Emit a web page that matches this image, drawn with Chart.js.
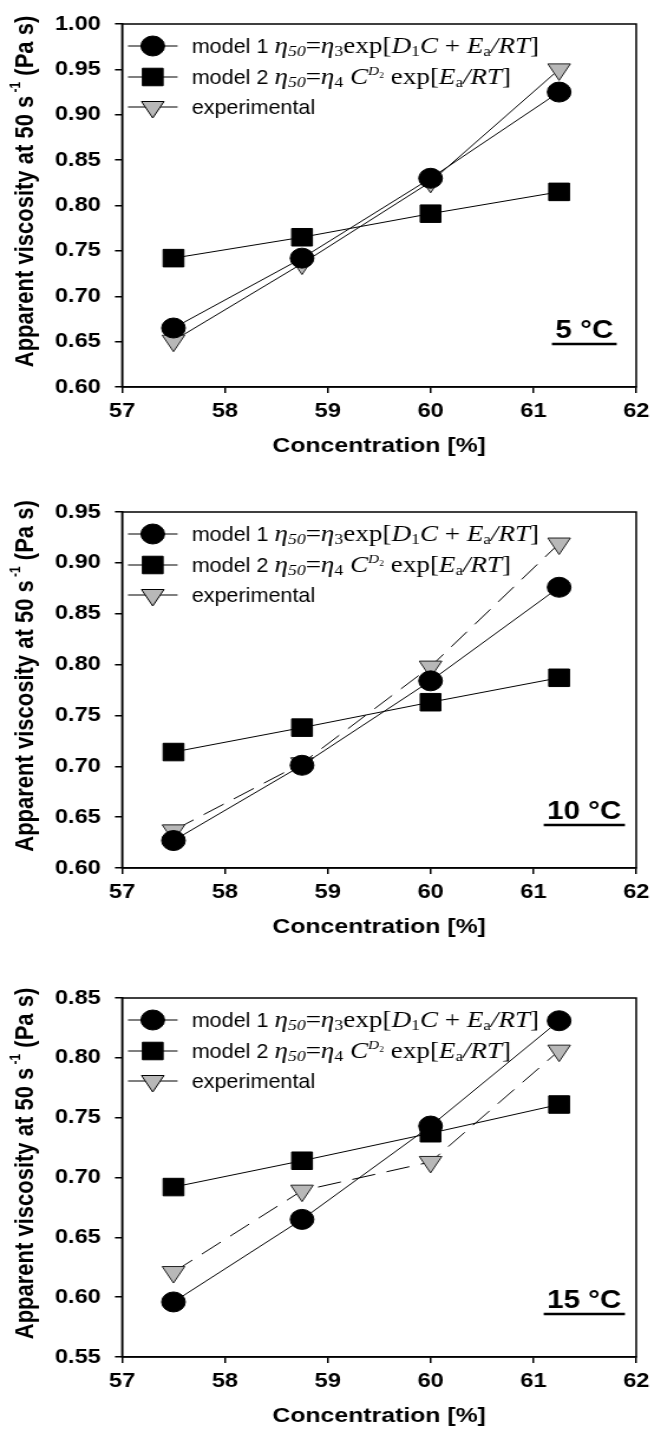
<!DOCTYPE html>
<html>
<head>
<meta charset="utf-8">
<script src="https://cdn.jsdelivr.net/npm/chart.js@4.4.0/dist/chart.umd.min.js"></script>
<style>
  html, body { margin: 0; padding: 0; background: #fff; width: 661px; height: 1429px; overflow: hidden; }
  .panel { position: absolute; left: 0; width: 560px; transform: scaleX(1.1804); transform-origin: 0 0; }
</style>
</head>
<body>
<div class="panel" style="top:0px"><canvas id="c5" width="560" height="462"></canvas></div>
<div class="panel" style="top:488px"><canvas id="c10" width="560" height="455"></canvas></div>
<div class="panel" style="top:974px"><canvas id="c15" width="560" height="458"></canvas></div>
<script>
// concentration [%]
const concentration = [57.5, 58.75, 60, 61.25];

// apparent viscosity at 50 1/s (Pa s)
const model1_5 = [0.665, 0.742, 0.830, 0.925];
const model2_5 = [0.742, 0.765, 0.791, 0.815];
const exper_5 = [0.651, 0.736, 0.826, 0.950];

const model1_10 = [0.627, 0.701, 0.784, 0.876];
const model2_10 = [0.714, 0.738, 0.763, 0.787];
const exper_10 = [0.637, 0.703, 0.798, 0.919];

const model1_15 = [0.596, 0.665, 0.743, 0.831];
const model2_15 = [0.692, 0.714, 0.737, 0.761];
const exper_15 = [0.621, 0.689, 0.713, 0.806];

// tick labels
const xTicks = [57, 58, 59, 60, 61, 62];
const yTicks5 = [0.60, 0.65, 0.70, 0.75, 0.80, 0.85, 0.90, 0.95, 1.00];
const yTicks10 = [0.60, 0.65, 0.70, 0.75, 0.80, 0.85, 0.90, 0.95];
const yTicks15 = [0.55, 0.60, 0.65, 0.70, 0.75, 0.80, 0.85];

const SANS = '"Liberation Sans", Arial, sans-serif';
const SERIF = '"Liberation Serif", "Times New Roman", serif';
Chart.defaults.font.family = SANS;
Chart.defaults.color = '#000';

// legend text pieces: [text, kind, size, dy]
const legendRows = [
  [['model 1 ', 's'], ['η', 'i'], ['50', 'i', 15, 3], ['=', 'r'], ['η', 'i'], ['3', 'r', 15, 3],
   ['exp', 'r'], ['[', 'r'], ['D', 'i'], ['1', 'r', 15, 3], ['C', 'i'], [' + ', 'r'],
   ['E', 'i'], ['a', 'r', 14, 3], ['/', 'i'], ['RT', 'i'], [']', 'r']],
  [['model 2 ', 's'], ['η', 'i'], ['50', 'i', 15, 3], ['=', 'r'], ['η', 'i'], ['4', 'r', 15, 3],
   [' C', 'i'], ['D', 'i', 13, -9], ['2', 'r', 8, -6], [' exp', 'r'], ['[', 'r'],
   ['E', 'i'], ['a', 'r', 14, 3], ['/', 'i'], ['RT', 'i'], [']', 'r']],
  [['experimental', 's']]
];

function drawRich(ctx, segs, x, base) {
  ctx.textBaseline = 'alphabetic';
  ctx.textAlign = 'left';
  ctx.fillStyle = '#000';
  segs.forEach(([t, kind, size, dy]) => {
    dy = dy || 0;
    if (kind === 's') {
      ctx.font = (size || 21) + 'px ' + SANS;
      const w = ctx.measureText(t).width * 0.87;
      ctx.save();
      ctx.translate(x, base + dy);
      ctx.scale(0.87, 1);
      ctx.fillText(t, 0, 0);
      ctx.restore();
      x += w;
    } else {
      ctx.font = (kind === 'i' ? 'italic ' : '') + (size || 23) + 'px ' + SERIF;
      ctx.fillText(t, x, base + dy);
      x += ctx.measureText(t).width;
    }
  });
}

const frame = {
  id: 'frame',
  beforeDatasetsDraw(chart) {
    const { ctx, chartArea: a } = chart;
    ctx.save();
    ctx.strokeStyle = '#000';
    ctx.lineWidth = 1.5;
    ctx.strokeRect(a.left, a.top, a.width, a.height);
    ctx.restore();
  }
};

const insideLegend = {
  id: 'insideLegend',
  afterDatasetsDraw(chart) {
    const { ctx, chartArea: a } = chart;
    const rowY = [22, 53, 83];
    chart.data.datasets.forEach((ds, i) => {
      const y = a.top + rowY[i];
      ctx.save();
      ctx.strokeStyle = '#000';
      ctx.lineWidth = 1.2;
      ctx.beginPath();
      ctx.moveTo(a.left + 5, y);
      ctx.lineTo(a.left + 47, y);
      ctx.stroke();
      ctx.fillStyle = ds.pointBackgroundColor;
      ctx.strokeStyle = '#000';
      ctx.lineWidth = 1;
      Chart.helpers.drawPoint(ctx, {
        pointStyle: ds.pointStyle, radius: ds.pointRadius,
        rotation: ds.pointRotation || 0, borderWidth: 1
      }, a.left + 26, y);
      drawRich(ctx, legendRows[i], a.left + 59, y + 7);
      ctx.restore();
    });
  }
};

const tempLabel = {
  id: 'tempLabel',
  afterDraw(chart, args, opts) {
    const { ctx, chartArea: a } = chart;
    ctx.save();
    ctx.font = 'bold 25px ' + SANS;
    ctx.fillStyle = '#000';
    ctx.strokeStyle = '#000';
    ctx.textAlign = 'center';
    ctx.textBaseline = 'alphabetic';
    const cx = a.right - 44;
    ctx.fillText(opts.text, cx, a.bottom - 49);
    const w = ctx.measureText(opts.text).width;
    ctx.lineWidth = 2.5;
    ctx.beginPath();
    ctx.moveTo(cx - w / 2 - 3, a.bottom - 43);
    ctx.lineTo(cx + w / 2 + 3, a.bottom - 43);
    ctx.stroke();
    ctx.restore();
  }
};

const yTitle = {
  id: 'yTitle',
  afterDraw(chart) {
    const { ctx, chartArea: a } = chart;
    const parts = [['Apparent viscosity at 50 s', 22, 0], [' -1', 12, -8], [' (Pa s)', 22, 0]];
    ctx.save();
    ctx.translate(22, (a.top + a.bottom) / 2 - 14);
    ctx.rotate(-Math.PI / 2);
    ctx.fillStyle = '#000';
    ctx.textBaseline = 'middle';
    ctx.textAlign = 'left';
    let total = 0;
    parts.forEach(([t, s]) => { ctx.font = 'bold ' + s + 'px ' + SANS; total += ctx.measureText(t).width; });
    let x = -total / 2;
    parts.forEach(([t, s, dy]) => {
      ctx.font = 'bold ' + s + 'px ' + SANS;
      ctx.fillText(t, x, dy);
      x += ctx.measureText(t).width;
    });
    ctx.restore();
  }
};

function pts(vals) {
  return concentration.map((c, i) => ({ x: c, y: vals[i] }));
}

function makeChart(id, m1, m2, ex, yTicks, dash, label) {
  new Chart(document.getElementById(id), {
    type: 'line',
    data: {
      datasets: [
        {
          label: 'model 1', data: pts(m1), order: 1,
          borderColor: '#000', borderWidth: 1, pointStyle: 'circle', pointRadius: 10,
          pointBackgroundColor: '#000', pointBorderColor: '#000', pointBorderWidth: 1
        },
        {
          label: 'model 2', data: pts(m2), order: 0,
          borderColor: '#000', borderWidth: 1, pointStyle: 'rect', pointRadius: 12.4,
          pointBackgroundColor: '#000', pointBorderColor: '#000', pointBorderWidth: 1
        },
        {
          label: 'experimental', data: pts(ex), order: 2,
          borderColor: '#000', borderWidth: 1, borderDash: dash,
          pointStyle: 'triangle', pointRotation: 180, pointRadius: 11,
          pointBackgroundColor: '#b8b8b8', pointBorderColor: '#222', pointBorderWidth: 1
        }
      ]
    },
    options: {
      responsive: false,
      animation: false,
      layout: { padding: { top: 15, right: 21, left: 0, bottom: 0 } },
      plugins: {
        legend: { display: false },
        tooltip: { enabled: false },
        tempLabel: { text: label }
      },
      scales: {
        x: {
          type: 'linear',
          min: xTicks[0], max: xTicks[xTicks.length - 1],
          afterBuildTicks: s => { s.ticks = xTicks.map(v => ({ value: v })); },
          afterFit: s => { s.height = 75; },
          ticks: { font: { size: 20, weight: 'bold' }, color: '#000', padding: 6, maxRotation: 0 },
          grid: { drawOnChartArea: false, drawTicks: true, tickLength: 6, color: '#000', lineWidth: 1.5 },
          border: { display: true, color: '#000', width: 1.5 },
          title: {
            display: true, text: 'Concentration [%]', color: '#000',
            font: { size: 21, weight: 'bold' }, padding: { top: 0, bottom: 3 }
          }
        },
        y: {
          min: yTicks[0], max: yTicks[yTicks.length - 1],
          afterBuildTicks: s => { s.ticks = yTicks.map(v => ({ value: v })); },
          afterFit: s => { s.width = 103.4; },
          ticks: { font: { size: 20, weight: 'bold' }, color: '#000', padding: 12, callback: v => v.toFixed(2) },
          grid: { drawOnChartArea: false, drawTicks: true, tickLength: 6, color: '#000', lineWidth: 1.5 },
          border: { display: true, color: '#000', width: 1.5 }
        }
      }
    },
    plugins: [frame, insideLegend, tempLabel, yTitle]
  });
}

makeChart('c5', model1_5, model2_5, exper_5, yTicks5, [], '5 °C');
makeChart('c10', model1_10, model2_10, exper_10, yTicks10, [20, 10], '10 °C');
makeChart('c15', model1_15, model2_15, exper_15, yTicks15, [20, 10], '15 °C');
</script>
</body>
</html>
